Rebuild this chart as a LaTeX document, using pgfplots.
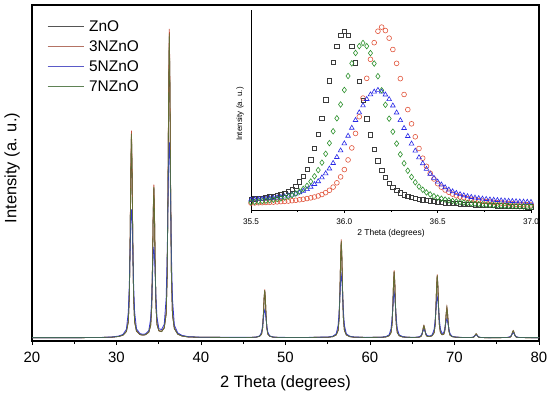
\documentclass[border=0pt]{standalone}
\usepackage{fontspec}
\setmainfont{Liberation Sans}
\usepackage{pgfplots}
\pgfplotsset{compat=1.18}
\usepackage{pgfplotstable}
\definecolor{cZnO}{RGB}{30,30,30}
\definecolor{cN3}{RGB}{200,80,60}
\definecolor{cN5}{RGB}{55,55,210}
\definecolor{cN7}{RGB}{70,120,50}
\definecolor{lZnO}{RGB}{85,85,85}
\definecolor{lN3}{RGB}{180,115,100}
\definecolor{lN5}{RGB}{90,90,200}
\definecolor{lN7}{RGB}{95,130,85}
\definecolor{mZnO}{RGB}{60,60,60}
\definecolor{mN3}{RGB}{225,85,60}
\definecolor{mN5}{RGB}{40,40,230}
\definecolor{mN7}{RGB}{45,145,45}

\pgfplotstableread{
x zno n3 n5 n7
20.00 1.00 1.00 1.00 1.00
25.00 1.00 1.00 1.00 1.00
28.00 1.03 1.03 1.04 1.03
29.50 1.15 1.15 1.20 1.15
30.27 1.36 1.37 1.48 1.36
30.77 1.74 1.76 1.98 1.75
31.17 2.83 2.88 3.49 2.85
31.395 5.66 5.78 8.58 5.71
31.52 13.40 13.71 17.10 13.52
31.62 31.10 31.85 27.95 31.40
31.695 50.30 51.53 35.75 50.79
31.77 61.10 62.60 39.15 61.70
31.845 50.30 51.53 35.75 50.79
31.92 31.10 31.85 27.95 31.40
32.02 13.44 13.75 17.14 13.56
32.145 5.71 5.83 8.65 5.76
32.37 2.92 2.97 3.60 2.94
32.77 1.92 1.94 2.22 1.93
33.10 1.76 1.78 2.00 1.77
33.42 1.86 1.88 2.11 1.87
33.82 2.61 2.65 3.10 2.63
34.045 4.68 4.77 6.66 4.72
34.17 10.37 10.60 12.60 10.46
34.27 23.39 23.95 20.24 23.61
34.345 37.50 38.41 25.60 37.87
34.42 45.40 46.51 28.00 45.84
34.495 37.50 38.41 25.65 37.87
34.57 23.46 24.02 20.35 23.68
34.67 10.50 10.74 12.80 10.60
34.795 4.91 5.01 7.00 4.95
35.02 3.02 3.07 3.63 3.04
35.34 2.81 2.86 3.42 2.83
35.65 3.92 3.99 5.00 3.95
35.875 8.05 8.23 12.70 8.12
36.00 19.55 20.01 25.60 19.74
36.10 45.95 47.07 42.10 46.40
36.175 74.60 76.44 54.00 75.34
36.25 90.65 92.89 59.20 91.55
36.325 74.50 76.34 54.00 75.24
36.40 45.90 47.02 42.00 46.35
36.50 19.50 19.96 25.60 19.69
36.625 7.90 8.07 12.50 7.97
36.85 3.70 3.77 4.70 3.73
37.25 2.04 2.07 2.40 2.05
37.75 1.49 1.50 1.67 1.49
38.50 1.20 1.20 1.30 1.20
40.00 1.10 1.10 1.12 1.10
44.00 1.05 1.05 1.08 1.05
46.04 1.07 1.07 1.09 1.07
46.54 1.15 1.15 1.19 1.15
46.94 1.41 1.42 1.51 1.41
47.165 2.06 2.09 2.61 2.07
47.29 3.87 3.94 4.44 3.90
47.39 8.00 8.18 6.78 8.07
47.465 12.48 12.77 8.46 12.59
47.54 15.00 15.35 9.20 15.14
47.615 12.48 12.77 8.46 12.59
47.69 8.00 8.18 6.78 8.07
47.79 3.87 3.94 4.44 3.90
47.915 2.06 2.09 2.61 2.07
48.14 1.41 1.42 1.51 1.41
48.54 1.15 1.15 1.19 1.15
49.04 1.07 1.07 1.09 1.07
52.00 1.02 1.02 1.03 1.02
55.10 1.14 1.14 1.20 1.14
55.60 1.31 1.32 1.43 1.31
56.00 1.83 1.85 2.15 1.84
56.225 3.17 3.22 4.65 3.19
56.35 6.84 6.99 8.81 6.90
56.45 15.25 15.61 14.10 15.39
56.525 24.37 24.95 17.90 24.60
56.60 29.50 30.21 19.60 29.79
56.675 24.37 24.95 17.90 24.60
56.75 15.25 15.61 14.10 15.39
56.85 6.84 6.99 8.81 6.90
56.975 3.17 3.22 4.65 3.19
57.20 1.83 1.85 2.15 1.84
57.60 1.31 1.32 1.43 1.31
58.10 1.14 1.14 1.20 1.14
59.50 1.05 1.05 1.07 1.05
61.36 1.10 1.10 1.14 1.10
61.86 1.21 1.22 1.31 1.21
62.26 1.57 1.58 1.82 1.58
62.485 2.48 2.52 3.61 2.49
62.61 5.00 5.10 6.59 5.04
62.71 10.75 10.99 10.38 10.85
62.785 17.00 17.40 13.10 17.16
62.86 20.50 20.99 14.30 20.70
62.935 17.00 17.40 13.10 17.16
63.01 10.75 10.99 10.38 10.85
63.11 5.00 5.10 6.59 5.04
63.235 2.48 2.52 3.61 2.49
63.46 1.57 1.58 1.82 1.58
63.86 1.21 1.22 1.31 1.21
64.36 1.10 1.10 1.14 1.10
64.90 1.06 1.06 1.08 1.06
65.40 1.07 1.07 1.10 1.07
65.78 1.15 1.15 1.22 1.15
66.005 1.32 1.33 1.55 1.32
66.13 1.76 1.78 2.08 1.77
66.23 2.77 2.81 2.74 2.79
66.305 3.86 3.93 3.21 3.89
66.38 4.47 4.56 3.42 4.50
66.455 3.87 3.94 3.22 3.90
66.53 2.79 2.83 2.78 2.81
66.63 1.84 1.86 2.16 1.85
66.755 1.42 1.43 1.67 1.42
66.98 1.34 1.35 1.47 1.34
67.20 1.42 1.43 1.58 1.42
67.36 1.61 1.63 1.84 1.62
67.585 2.46 2.50 3.44 2.47
67.71 4.82 4.92 6.10 4.86
67.81 10.22 10.45 9.53 10.31
67.885 16.08 16.46 12.00 16.23
67.96 19.39 19.85 13.09 19.57
68.035 16.08 16.46 12.03 16.23
68.11 10.25 10.48 9.59 10.34
68.21 4.87 4.97 6.19 4.91
68.335 2.55 2.59 3.56 2.57
68.53 1.87 1.89 2.21 1.88
68.725 1.99 2.01 2.51 2.00
68.85 3.01 3.06 3.58 3.03
68.95 5.51 5.62 5.04 5.56
69.025 8.24 8.42 6.09 8.31
69.10 9.76 9.98 6.51 9.85
69.175 8.19 8.37 6.01 8.26
69.25 5.43 5.54 4.91 5.47
69.35 2.87 2.92 3.38 2.89
69.475 1.74 1.76 2.17 1.75
69.70 1.32 1.33 1.43 1.32
70.10 1.15 1.15 1.19 1.15
70.60 1.07 1.07 1.11 1.07
71.06 1.02 1.02 1.04 1.02
71.56 1.02 1.02 1.03 1.02
71.96 1.04 1.04 1.06 1.04
72.185 1.08 1.08 1.16 1.08
72.31 1.23 1.23 1.34 1.23
72.41 1.55 1.56 1.56 1.55
72.485 1.90 1.92 1.73 1.91
72.56 2.10 2.13 1.80 2.11
72.635 1.90 1.92 1.73 1.91
72.71 1.55 1.56 1.56 1.55
72.81 1.23 1.23 1.34 1.23
72.935 1.08 1.08 1.16 1.08
73.16 1.03 1.03 1.05 1.03
73.56 1.01 1.01 1.02 1.01
74.06 1.00 1.00 1.01 1.00
75.45 1.01 1.01 1.02 1.01
75.95 1.02 1.02 1.03 1.02
76.35 1.06 1.06 1.09 1.06
76.575 1.15 1.15 1.27 1.15
76.70 1.41 1.42 1.59 1.41
76.80 2.00 2.03 1.99 2.01
76.875 2.64 2.68 2.27 2.66
76.95 3.00 3.05 2.40 3.02
77.025 2.64 2.68 2.27 2.66
77.10 2.00 2.03 1.99 2.01
77.20 1.41 1.42 1.59 1.41
77.325 1.15 1.15 1.27 1.15
77.55 1.06 1.06 1.09 1.06
77.95 1.02 1.02 1.03 1.02
78.45 1.01 1.01 1.02 1.01
80.00 1.00 1.00 1.00 1.00
}\maindata

\pgfplotstableread{
x zno n3 n5 n7
35.50 5.35 3.48 5.09 3.92
35.52 5.53 3.54 5.19 4.09
35.54 5.73 3.61 5.34 4.26
35.56 5.97 3.68 5.47 4.44
35.58 6.20 3.76 5.60 4.65
35.60 6.51 3.84 5.80 4.87
35.62 6.84 3.94 5.98 5.16
35.64 7.25 4.07 6.19 5.45
35.66 7.75 4.18 6.47 5.79
35.68 8.42 4.33 6.77 6.21
35.70 9.31 4.46 7.16 6.73
35.72 10.45 4.66 7.62 7.41
35.74 11.99 4.88 8.13 8.26
35.76 14.05 5.13 8.74 9.24
35.78 16.90 5.39 9.55 10.54
35.80 20.44 5.71 10.39 12.09
35.82 25.10 6.07 11.53 14.23
35.84 30.91 6.51 12.90 16.84
35.86 37.93 7.03 14.32 19.96
35.88 45.99 7.74 16.20 23.66
35.90 55.02 8.67 18.26 28.09
35.92 64.56 9.85 20.65 33.44
35.94 73.75 11.46 23.44 39.36
35.96 81.82 13.59 26.42 45.85
35.98 87.36 16.55 29.72 52.76
36.00 89.33 20.21 33.26 60.00
36.02 87.31 25.04 37.04 66.99
36.04 81.71 31.04 41.03 73.32
36.06 73.59 38.30 44.91 78.50
36.08 64.35 46.64 48.74 81.94
36.10 54.75 55.96 52.22 83.50
36.12 45.68 65.82 55.41 81.92
36.14 37.56 75.33 57.70 78.44
36.16 30.48 83.66 59.12 73.24
36.18 24.63 89.39 59.97 66.89
36.20 19.91 91.44 59.11 59.86
36.22 16.31 89.71 57.67 52.60
36.24 13.42 85.93 55.37 45.67
36.26 11.30 80.25 52.17 39.14
36.28 9.70 73.33 48.67 33.20
36.30 8.52 65.68 44.83 27.83
36.32 7.57 57.75 40.94 23.36
36.34 6.84 50.20 36.93 19.64
36.36 6.30 43.09 33.14 16.50
36.38 5.83 36.61 29.59 13.85
36.40 5.44 30.75 26.27 11.69
36.42 5.09 25.89 23.28 10.12
36.44 4.80 21.83 20.48 8.78
36.46 4.50 18.40 18.07 7.78
36.48 4.26 15.52 16.00 6.91
36.50 4.02 13.16 14.11 6.19
36.52 3.84 11.44 12.67 5.65
36.54 3.66 9.99 11.29 5.21
36.56 3.50 8.89 10.14 4.83
36.58 3.34 7.94 9.28 4.52
36.60 3.21 7.16 8.46 4.21
36.62 3.08 6.56 7.84 3.95
36.64 2.96 6.09 7.31 3.72
36.66 2.85 5.67 6.84 3.52
36.68 2.74 5.34 6.44 3.31
36.70 2.64 4.99 6.12 3.12
36.72 2.55 4.70 5.83 2.96
36.74 2.46 4.46 5.61 2.82
36.76 2.38 4.23 5.41 2.69
36.78 2.31 4.01 5.20 2.56
36.80 2.23 3.80 5.05 2.45
36.82 2.15 3.61 4.91 2.33
36.84 2.10 3.47 4.75 2.23
36.86 2.03 3.32 4.63 2.14
36.88 1.96 3.18 4.52 2.05
36.90 1.90 3.06 4.41 1.97
36.92 1.85 2.92 4.29 1.89
36.94 1.78 2.82 4.20 1.82
36.96 1.74 2.71 4.11 1.75
36.98 1.68 2.62 4.02 1.68
37.00 1.62 2.53 3.96 1.61
}\insetdata

\newcommand{\legline}[1]{\tikz[baseline=0pt]\draw[draw=#1, line width=0.9bp] (0bp,5.5bp) -- (36bp,5.5bp);\hspace{5bp}}

\begin{document}
\begin{tikzpicture}
\useasboundingbox (-32bp,-54bp) rectangle (518bp,341bp);
\begin{axis}[
  at={(0bp,0bp)}, anchor=south west,
  scale only axis, width=507bp, height=336bp,
  xmin=20, xmax=80, ymin=0, ymax=100,
  xtick={20,30,40,50,60,70,80},
  xticklabels={20,30,40,50,60,70,80},
  minor x tick num=1,
  ytick=\empty,
  xtick pos=left,
  tick align=outside,
  major tick length=4bp, minor tick length=3bp,
  axis line style={line width=1.1bp},
  every tick/.style={black, line width=0.9bp},
  xticklabel style={font=\fontsize{15}{18}\selectfont, anchor=north, inner sep=0pt, yshift=-7bp},
  xlabel={2 Theta (degrees)},
  ylabel={Intensity (a. u.)},
  xlabel style={font=\fontsize{16.5}{19}\selectfont, at={(axis description cs:0.5,0)}, anchor=center, yshift=-42bp},
  ylabel style={font=\fontsize{16.5}{19}\selectfont, at={(axis description cs:-0.0394,0.515)}, anchor=center},
  legend style={at={(axis description cs:0.0296,0.955)}, anchor=north west, draw=none, fill=none, inner sep=0pt,
    font=\fontsize{15.5}{18}\selectfont, row sep=8bp,
    nodes={inner sep=0pt, text height=11.5bp, text depth=0.5bp},
    /tikz/every even column/.append style={column sep=0pt}},
  legend cell align=left,
]
\addplot[draw=cZnO, line width=0.8bp, forget plot] table[x=x, y=zno] {\maindata};
\addplot[draw=cN3, line width=0.8bp, forget plot] table[x=x, y=n3] {\maindata};
\addplot[draw=cN5, line width=0.8bp, forget plot] table[x=x, y=n5] {\maindata};
\addplot[draw=cN7, draw opacity=0.75, line width=0.8bp, forget plot] table[x=x, y=n7] {\maindata};
\addlegendimage{empty legend}
\addlegendentry{\legline{lZnO}ZnO}
\addlegendimage{empty legend}
\addlegendentry{\legline{lN3}3NZnO}
\addlegendimage{empty legend}
\addlegendentry{\legline{lN5}5NZnO}
\addlegendimage{empty legend}
\addlegendentry{\legline{lN7}7NZnO}
\end{axis}

\begin{axis}[
  at={(219bp,131bp)}, anchor=south west,
  scale only axis, width=280bp, height=200bp,
  xmin=35.5, xmax=37.0, ymin=0, ymax=100,
  axis x line*=bottom, axis y line*=left,
  axis line style={line width=0.8bp, -},
  xtick={35.5,36,36.5,37},
  xticklabels={35.5,36.0,36.5,37.0},
  minor x tick num=1,
  ytick=\empty,
  tick align=outside,
  major tick length=3bp, minor tick length=2bp,
  every tick/.style={black, line width=0.6bp},
  xticklabel style={font=\fontsize{8.2}{10}\selectfont, anchor=center, inner sep=0pt, yshift=-9bp},
  xlabel={2 Theta (degrees)},
  ylabel={Intensity (a. u.)},
  xlabel style={font=\fontsize{8.5}{10}\selectfont, at={(axis description cs:0.5,0)}, anchor=center, yshift=-23bp},
  ylabel style={font=\fontsize{8}{10}\selectfont, at={(axis description cs:-0.039,0.48)}, anchor=center},
]
\addplot[only marks, mark=square, mark size=2.2bp, mark options={draw=mZnO, line width=0.6bp, fill=none}] table[x=x, y=zno] {\insetdata};
\addplot[only marks, mark=o, mark size=2.4bp, mark options={draw=mN3, line width=0.6bp, fill=none}] table[x=x, y=n3] {\insetdata};
\addplot[only marks, mark=triangle, mark size=2.7bp, mark options={draw=mN5, line width=0.6bp, fill=none}] table[x=x, y=n5] {\insetdata};
\addplot[only marks, mark=diamond, mark size=2.8bp, mark options={draw=mN7, line width=0.6bp, fill=none}] table[x=x, y=n7] {\insetdata};
\end{axis}
\end{tikzpicture}
\end{document}
